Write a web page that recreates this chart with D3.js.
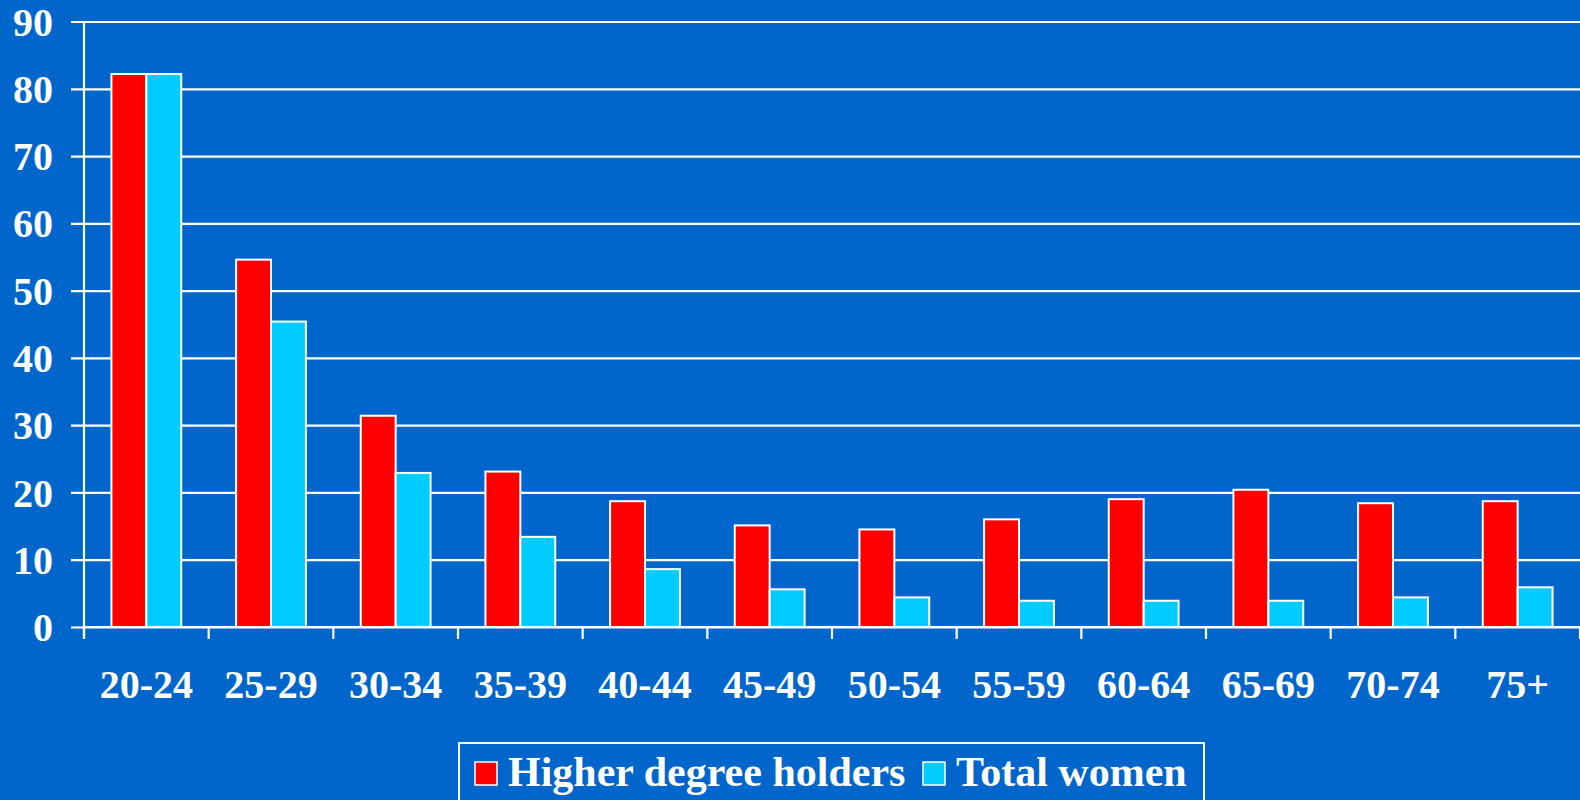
<!DOCTYPE html>
<html>
<head>
<meta charset="utf-8">
<script src="https://cdn.jsdelivr.net/npm/d3@7"></script>
<style>
  html, body { margin: 0; padding: 0; background: #0066cc; overflow: hidden; }
  svg { display: block; }
  text { font-family: "Liberation Serif", "Times New Roman", serif; font-weight: bold; fill: #fff; }
</style>
</head>
<body>
<svg id="chart" width="1580" height="800"></svg>
<script>
// age groups along the bottom
var categories = ["20-24", "25-29", "30-34", "35-39", "40-44", "45-49",
                  "50-54", "55-59", "60-64", "65-69", "70-74", "75+"];
var seriesNames = ["Higher degree holders", "Total women"];
var higherDegree = [82.2, 54.6, 31.4, 23.1, 18.7, 15.1, 14.5, 16.0, 19.0, 20.4, 18.4, 18.7];
var totalWomen   = [82.2, 45.4, 22.9, 13.4, 8.6, 5.6, 4.4, 3.9, 3.9, 3.9, 4.4, 5.9];
var yTicks = [0, 10, 20, 30, 40, 50, 60, 70, 80, 90];
var colors = ["#ff0000", "#00ccff"];

var svg = d3.select("#chart");
var plot = {left: 84, right: 1580, top: 21.5, bottom: 627};

var x0 = d3.scaleBand()
  .domain(categories)
  .range([plot.left, plot.right])
  .paddingInner(0.44)
  .paddingOuter(0.22);
var x1 = d3.scaleBand()
  .domain([0, 1])
  .range([0, x0.bandwidth()]);
var y = d3.scaleLinear().domain([0, 90]).range([plot.bottom, plot.top]);

// gridlines + y axis
var yAxis = d3.axisLeft(y).tickValues(yTicks).tickSize(-(plot.right - plot.left));
var gy = svg.append("g").attr("transform", "translate(" + plot.left + ",0)").call(yAxis);
gy.select(".domain").remove();
gy.selectAll(".tick line").attr("stroke", "#fff").attr("stroke-width", 2.2).attr("x1", -13);
gy.selectAll(".tick text")
  .attr("fill", "#fff")
  .style("font-size", "40px")
  .attr("dy", "0.34em")
  .attr("x", -31);

svg.append("line")
  .attr("x1", plot.left).attr("x2", plot.left)
  .attr("y1", plot.top).attr("y2", plot.bottom + 12)
  .attr("stroke", "#fff").attr("stroke-width", 2.2);

// bars
var rows = categories.map(function(c, i){ return {cat: c, vals: [higherDegree[i], totalWomen[i]]}; });
svg.append("g").selectAll("g")
  .data(rows)
  .enter().append("g")
    .attr("transform", function(d){ return "translate(" + x0(d.cat) + ",0)"; })
  .selectAll("rect")
  .data(function(d){ return d.vals; })
  .enter().append("rect")
    .attr("x", function(d, i){ return x1(i); })
    .attr("y", function(d){ return y(d); })
    .attr("width", x1.bandwidth())
    .attr("height", function(d){ return y(0) - y(d); })
    .attr("fill", function(d, i){ return colors[i]; })
    .attr("stroke", "#fff")
    .attr("stroke-width", 2);

// x axis: baseline, ticks between groups, labels
svg.append("line")
  .attr("x1", plot.left).attr("x2", plot.right)
  .attr("y1", plot.bottom).attr("y2", plot.bottom)
  .attr("stroke", "#fff").attr("stroke-width", 2.2);
var step = x0.step();
var bounds = d3.range(categories.length + 1).map(function(i){ return plot.left + i * step; });
svg.append("g").selectAll("line")
  .data(bounds)
  .enter().append("line")
    .attr("x1", function(d){ return d; }).attr("x2", function(d){ return d; })
    .attr("y1", plot.bottom).attr("y2", plot.bottom + 12)
    .attr("stroke", "#fff").attr("stroke-width", 2.2);
svg.append("g").selectAll("text")
  .data(categories)
  .enter().append("text")
    .attr("x", function(d){ return x0(d) + x0.bandwidth() / 2; })
    .attr("y", 698)
    .attr("text-anchor", "middle")
    .style("font-size", "40px")
    .text(function(d){ return d; });

// legend
var lg = svg.append("g");
lg.append("rect")
  .attr("x", 459).attr("y", 743).attr("width", 745).attr("height", 80)
  .attr("fill", "none").attr("stroke", "#fff").attr("stroke-width", 2);
var legendX = [475, 923];
seriesNames.forEach(function(name, i){
  lg.append("rect")
    .attr("x", legendX[i]).attr("y", 762).attr("width", 22).attr("height", 23)
    .attr("fill", colors[i]).attr("stroke", "#fff").attr("stroke-width", 1.5);
  lg.append("text")
    .attr("x", legendX[i] + 33).attr("y", 786)
    .style("font-size", "42px")
    .text(name);
});
</script>
</body>
</html>
